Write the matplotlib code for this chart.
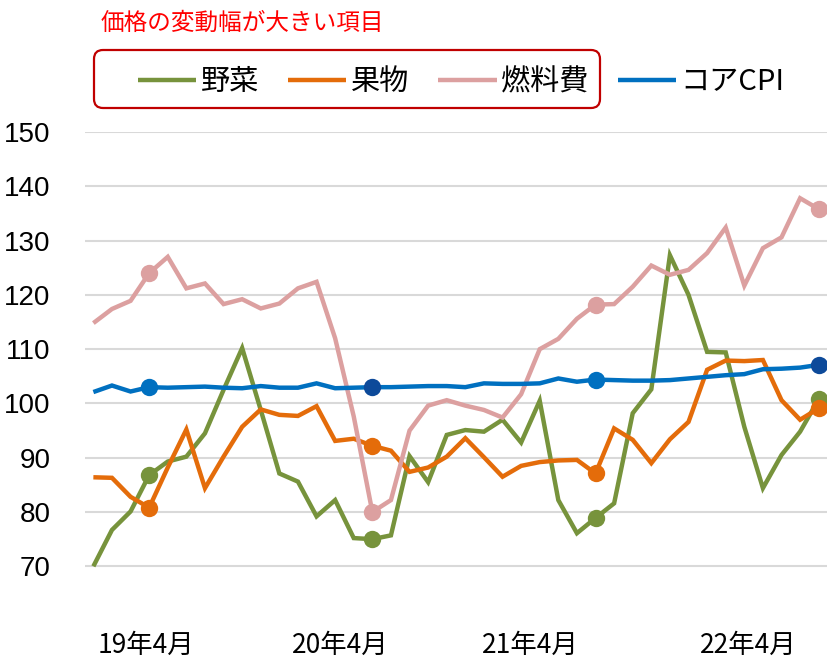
import matplotlib
matplotlib.use("Agg")
import matplotlib.pyplot as plt
from matplotlib.patches import FancyBboxPatch

# 19年1月〜22年4月 の月次データ (40か月)
veg = [70.0, 76.7, 80.1, 86.8, 89.3, 90.2, 94.5, 102.5, 110.2, 98.8,
       87.1, 85.6, 79.2, 82.2, 75.2, 75.0, 75.7, 90.3, 85.5, 94.2,
       95.1, 94.8, 97.0, 92.8, 100.5, 82.2, 76.1, 78.9, 81.6, 98.2,
       102.6, 127.3, 120.0, 109.5, 109.4, 95.7, 84.4, 90.5, 94.8, 100.8]
fruit = [86.4, 86.3, 82.8, 80.8, 88.2, 95.2, 84.4, 90.2, 95.7, 98.9,
         97.9, 97.7, 99.5, 93.1, 93.5, 92.2, 91.3, 87.4, 88.2, 90.2,
         93.6, 90.1, 86.5, 88.5, 89.2, 89.5, 89.6, 87.1, 95.4, 93.3,
         89.0, 93.4, 96.6, 106.2, 107.9, 107.8, 108.0, 100.6, 97.0, 99.1]
fuel = [114.8, 117.4, 118.9, 124.0, 127.0, 121.2, 122.1, 118.3, 119.2, 117.5,
        118.4, 121.2, 122.4, 112.0, 97.6, 80.0, 82.2, 95.0, 99.6, 100.6,
        99.6, 98.8, 97.4, 101.7, 110.0, 111.9, 115.6, 118.2, 118.3, 121.5,
        125.4, 123.7, 124.6, 127.7, 132.4, 121.7, 128.6, 130.6, 137.8, 135.8]
core = [102.1, 103.3, 102.2, 103.0, 102.9, 103.0, 103.1, 102.9, 102.8, 103.2,
        102.9, 102.9, 103.7, 102.8, 102.9, 103.0, 103.0, 103.1, 103.2, 103.2,
        103.0, 103.7, 103.6, 103.6, 103.7, 104.6, 104.0, 104.4, 104.3, 104.2,
        104.2, 104.3, 104.6, 104.9, 105.2, 105.4, 106.3, 106.4, 106.6, 107.1]

series_names = ["野菜", "果物", "燃料費", "コアCPI"]
mark_idx = [3, 15, 27, 39]  # 各年4月
tick_labels = ["19年4月", "20年4月", "21年4月", "22年4月"]
tick_pos = [2.8, 13.3, 23.5, 35.2]
yticks = [70, 80, 90, 100, 110, 120, 130, 140, 150]

colors = ["#77933C", "#E46C0A", "#DCA0A0", "#0070C0"]
core_mark_colors = ["#0070C0", "#0D4A9A", "#0070C0", "#0D4A9A"]

plt.rcParams["font.family"] = ["Noto Sans CJK JP", "DejaVu Sans"]

fig = plt.figure(figsize=(8.28, 6.59), dpi=100)
ax = fig.add_axes([85 / 828, 1 - 620.6 / 659, 1 - 85 / 828, (620.6 - 132) / 659])

x = list(range(len(veg)))
for vals, c, name in zip([veg, fruit, fuel, core], colors, series_names):
    ax.plot(x, vals, color=c, lw=3.2, label=name, solid_joinstyle="miter",
            solid_capstyle="butt")

for vals, c in zip([veg, fruit, fuel], colors[:3]):
    ax.plot(mark_idx, [vals[i] for i in mark_idx], "o", color=c, ms=12.5, mec="none")
for i, mc in zip(mark_idx, core_mark_colors):
    ax.plot([i], [core[i]], "o", color=mc, ms=12.5, mec="none")

ax.set_xlim(-0.45, 39.5)
ax.set_ylim(60, 150)
ax.set_yticks(yticks)
ax.set_yticklabels([str(v) for v in yticks], family="Liberation Sans", fontsize=20)
ax.set_xticks(tick_pos)
ax.set_xticklabels(tick_labels, fontsize=19)
ax.tick_params(axis="y", length=0, pad=25)
ax.tick_params(axis="x", length=0, pad=8)
ax.grid(axis="y", color="#D9D9D9", lw=1.5, zorder=0)
ax.set_axisbelow(True)
for s in ax.spines.values():
    s.set_visible(False)

fig.text(101 / 828, 1 - 23 / 659, "価格の変動幅が大きい項目", color="#FF0000",
         fontsize=17, va="center", ha="left")

fig.legend(loc="center left", bbox_to_anchor=(138 / 828, 1 - 82 / 659),
           ncol=4, frameon=False, fontsize=21, handlelength=2.0,
           handletextpad=0.15, columnspacing=1.0, borderpad=0, borderaxespad=0)

box = FancyBboxPatch((0.94, 6.59 - 1.08), 5.06, 0.58,
                     boxstyle="round,pad=0,rounding_size=0.09",
                     transform=fig.dpi_scale_trans, fill=False,
                     edgecolor="#C00000", lw=1.6)
fig.patches.append(box)

fig.savefig("out.png", dpi=100)
